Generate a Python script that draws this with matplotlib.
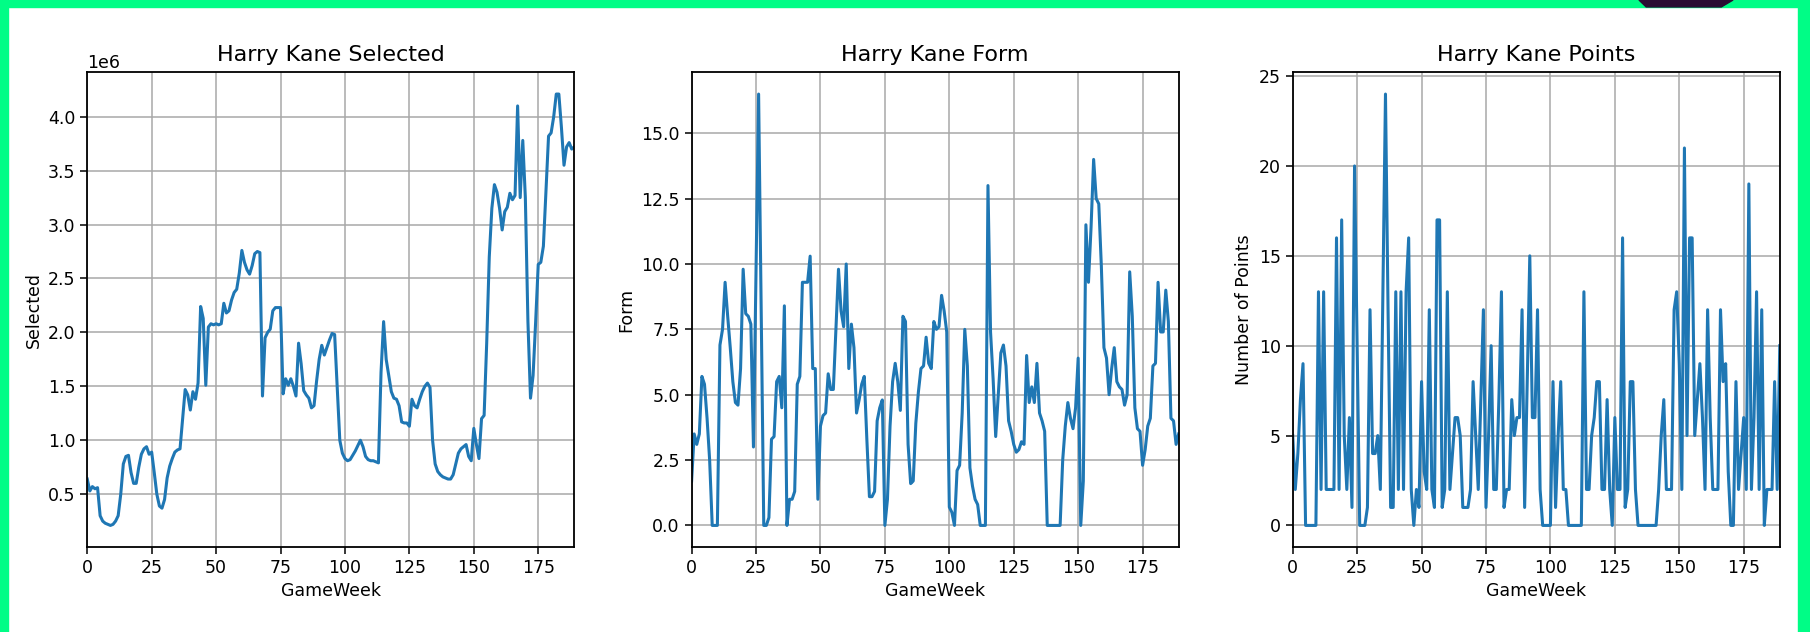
import matplotlib
matplotlib.use("Agg")
import numpy as np
from matplotlib import pyplot as plt
from matplotlib.patches import Rectangle, Polygon

# Harry Kane FPL history, one value per gameweek (5 seasons x 38)
selected_m = [
    0.64, 0.53, 0.57, 0.55, 0.56, 0.30, 0.25, 0.23, 0.22, 0.21,
    0.22, 0.25, 0.30, 0.50, 0.78, 0.85, 0.86, 0.70, 0.60, 0.60,
    0.75, 0.87, 0.92, 0.94, 0.87, 0.89, 0.70, 0.50, 0.39, 0.37,
    0.45, 0.65, 0.76, 0.83, 0.89, 0.91, 0.92, 1.20, 1.47, 1.42,
    1.28, 1.45, 1.38, 1.53, 2.24, 2.13, 1.51, 2.05, 2.08, 2.07,
    2.08, 2.07, 2.08, 2.27, 2.18, 2.20, 2.30, 2.37, 2.40, 2.55,
    2.76, 2.65, 2.58, 2.54, 2.62, 2.73, 2.75, 2.74, 1.41, 1.95,
    2.00, 2.03, 2.20, 2.23, 2.23, 2.23, 1.43, 1.57, 1.51, 1.57,
    1.50, 1.41, 1.90, 1.71, 1.46, 1.42, 1.39, 1.30, 1.32, 1.55,
    1.75, 1.88, 1.79, 1.86, 1.93, 1.99, 1.98, 1.50, 1.00, 0.88,
    0.83, 0.81, 0.82, 0.86, 0.90, 0.95, 1.00, 0.94, 0.85, 0.82,
    0.81, 0.81, 0.80, 0.79, 1.63, 2.10, 1.75, 1.60, 1.45, 1.39,
    1.38, 1.32, 1.17, 1.16, 1.16, 1.13, 1.38, 1.32, 1.30, 1.38,
    1.45, 1.50, 1.53, 1.49, 1.00, 0.78, 0.71, 0.68, 0.66, 0.65,
    0.64, 0.64, 0.68, 0.78, 0.88, 0.92, 0.94, 0.96, 0.85, 0.81,
    1.11, 0.96, 0.83, 1.20, 1.23, 1.90, 2.70, 3.15, 3.37, 3.30,
    3.15, 2.95, 3.12, 3.16, 3.29, 3.23, 3.27, 4.10, 3.25, 3.78,
    3.25, 2.10, 1.39, 1.60, 2.10, 2.63, 2.65, 2.80, 3.30, 3.82,
    3.85, 4.00, 4.21, 4.21, 3.90, 3.55, 3.72, 3.76, 3.70, 3.72,
]

form = [
    1.7, 3.5, 3.1, 3.5, 5.7, 5.4, 4.1, 2.5, 0.0, 0.0,
    0.0, 6.9, 7.5, 9.3, 8.0, 6.8, 5.5, 4.7, 4.6, 6.0,
    9.8, 8.1, 8.0, 7.7, 3.0, 9.7, 16.5, 8.2, 0.0, 0.0,
    0.3, 3.3, 3.4, 5.5, 5.7, 4.5, 8.4, 0.0, 1.0, 1.0,
    1.3, 5.4, 5.7, 9.3, 9.3, 9.3, 10.3, 6.0, 6.0, 1.0,
    3.8, 4.2, 4.3, 5.8, 5.2, 5.2, 7.5, 9.8, 8.2, 7.6,
    10.0, 6.0, 7.7, 6.8, 4.3, 4.8, 5.4, 5.7, 3.3, 1.1,
    1.1, 1.3, 4.0, 4.5, 4.8, 0.0, 1.0, 3.8, 5.5, 6.2,
    5.5, 4.4, 8.0, 7.8, 3.1, 1.6, 1.7, 3.9, 5.1, 6.0,
    6.1, 7.2, 6.2, 6.0, 7.8, 7.5, 7.6, 8.8, 8.2, 7.4,
    0.7, 0.5, 0.0, 2.1, 2.3, 4.3, 7.5, 6.1, 2.2, 1.5,
    1.0, 0.8, 0.0, 0.0, 0.0, 13.0, 7.4, 5.6, 3.4, 5.0,
    6.6, 6.9, 6.1, 4.0, 3.6, 3.1, 2.8, 2.9, 3.2, 3.1,
    6.5, 4.7, 5.3, 4.7, 6.2, 4.3, 4.0, 3.6, 0.0, 0.0,
    0.0, 0.0, 0.0, 0.0, 2.5, 3.8, 4.7, 4.1, 3.7, 4.5,
    6.4, 0.0, 1.7, 11.5, 9.3, 11.4, 14.0, 12.5, 12.3, 9.9,
    6.8, 6.4, 5.0, 6.0, 6.8, 5.5, 5.3, 5.2, 4.6, 5.0,
    9.7, 8.0, 4.5, 3.7, 3.6, 2.3, 2.9, 3.8, 4.1, 6.1,
    6.2, 9.3, 7.4, 7.4, 9.0, 7.8, 4.1, 4.0, 3.1, 3.5,
]

points = [
    5, 2, 4, 7, 9, 0, 0, 0, 0, 0,
    13, 2, 13, 2, 2, 2, 2, 16, 2, 17,
    5, 2, 6, 1, 20, 10, 0, 0, 0, 1,
    12, 4, 4, 5, 2, 13, 24, 12, 1, 1,
    13, 2, 13, 2, 13, 16, 2, 0, 2, 1,
    8, 3, 2, 12, 2, 1, 17, 17, 1, 2,
    13, 2, 4, 6, 6, 5, 1, 1, 1, 2,
    8, 5, 2, 7, 12, 1, 5, 10, 2, 2,
    7, 13, 1, 2, 2, 7, 5, 6, 6, 12,
    1, 8, 15, 6, 6, 12, 2, 0, 0, 0,
    0, 8, 1, 5, 8, 2, 2, 0, 0, 0,
    0, 0, 0, 13, 2, 2, 5, 6, 8, 8,
    2, 2, 7, 2, 0, 6, 2, 2, 16, 1,
    2, 8, 8, 2, 0, 0, 0, 0, 0, 0,
    0, 0, 2, 5, 7, 2, 2, 2, 12, 13,
    9, 2, 21, 5, 16, 16, 5, 7, 9, 6,
    2, 12, 6, 2, 2, 2, 12, 8, 9, 3,
    0, 0, 8, 2, 4, 6, 2, 19, 2, 6,
    13, 2, 12, 0, 2, 2, 2, 8, 2, 10,
]

gameweek = np.arange(len(points))

plt.rcParams['font.size'] = 12.5
plt.rcParams['axes.titlesize'] = 16
plt.rcParams['axes.linewidth'] = 1.3

fig = plt.figure(figsize=(18.1, 6.32), dpi=100)

panels = [
    (0.0482, np.array(selected_m) * 1e6, "Harry Kane Selected", "Selected"),
    (0.3821, form, "Harry Kane Form", "Form"),
    (0.7142, points, "Harry Kane Points", "Number of Points"),
]

for left, values, title, ylabel in panels:
    ax = fig.add_axes([left, 0.1345, 0.2691, 0.7508])
    ax.plot(gameweek, values, color='#1f77b4', linewidth=2.2)
    ax.set_xlim(0, gameweek[-1])
    ax.set_xticks([0, 25, 50, 75, 100, 125, 150, 175])
    ax.grid(True, color='#a8a8a8', linewidth=1.1)
    ax.set_title(title, pad=8)
    ax.set_xlabel("GameWeek")
    ax.set_ylabel(ylabel)
    ax.tick_params(length=5, width=1.1)
    ax.yaxis.get_offset_text().set_fontsize(12.5)

# green frame round the figure, with the dark shape poking in at the top
green = '#00fd86'
fig.patches.append(Rectangle((0, 0.989), 1, 0.011, transform=fig.transFigure,
                             color=green, zorder=10))
fig.patches.append(Rectangle((0, 0), 0.0045, 1, transform=fig.transFigure,
                             color=green, zorder=10))
fig.patches.append(Rectangle((0.9934, 0), 0.0066, 1, transform=fig.transFigure,
                             color=green, zorder=10))
fig.patches.append(Polygon([(0.9055, 1), (0.9575, 1), (0.951, 0.989), (0.9095, 0.989)],
                           closed=True, transform=fig.transFigure,
                           color='#2a0c33', zorder=11))

fig.savefig("out.png", dpi=100)
